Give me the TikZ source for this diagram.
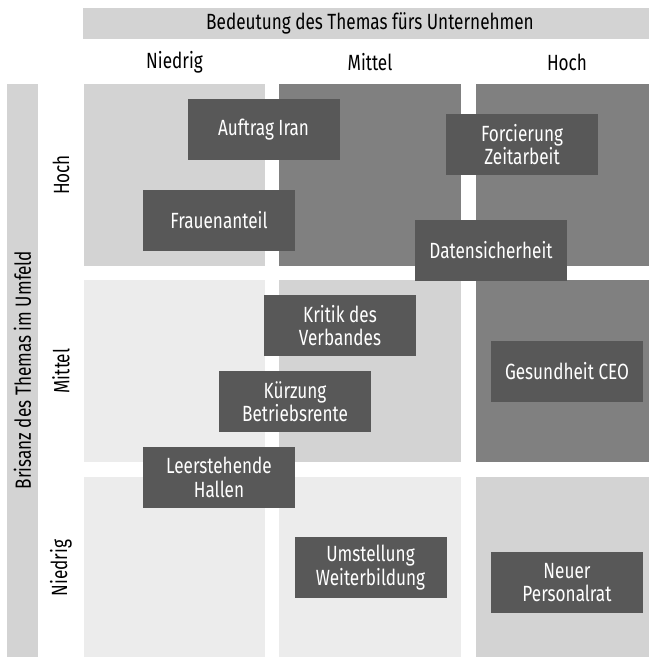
\documentclass[tikz,border=0pt]{standalone}
\usepackage{fontspec}
\setmainfont{Fira Sans}[FakeStretch=0.78]
\definecolor{vlight}{HTML}{ECECEC}
\definecolor{light}{HTML}{D3D3D3}
\definecolor{mid}{HTML}{808080}
\definecolor{dark}{HTML}{585858}
\begin{document}
\begin{tikzpicture}[x=1pt,y=-1pt,
  topic/.style={fill=dark,text=white,minimum width=152pt,minimum height=61pt,inner sep=0pt,align=center,font=\fontsize{22}{23.5}\selectfont},
  axislabel/.style={font=\fontsize{22}{24}\selectfont,inner sep=0pt}]
\useasboundingbox (0,0) rectangle (649,657);
% header bars
\fill[light] (83,8) rectangle (649,39);
\node[axislabel] (htitle) at (370,23.5) {Bedeutung des Themas fürs Unternehmen};
\fill[light] (7,84) rectangle (38,657);
\node[axislabel,rotate=90] (vtitle) at (22.5,370) {Brisanz des Themas im Umfeld};
% column labels
\node[axislabel] (cl) at (174.5,62) {Niedrig};
\node[axislabel] (cm) at (370,62) {Mittel};
\node[axislabel] (ch) at (567,62) {Hoch};
% row labels
\node[axislabel,rotate=90] (rh) at (61,175) {Hoch};
\node[axislabel,rotate=90] (rm) at (61,371) {Mittel};
\node[axislabel,rotate=90] (rn) at (61,568) {Niedrig};
% cells
\fill[light] (84,84) rectangle (265,266);
\fill[mid]   (279,84) rectangle (461,266);
\fill[mid]   (476,84) rectangle (649,266);
\fill[vlight] (84,280) rectangle (265,462);
\fill[light]  (279,280) rectangle (461,462);
\fill[mid]    (476,280) rectangle (649,462);
\fill[vlight] (84,477) rectangle (265,657);
\fill[vlight] (279,477) rectangle (461,657);
\fill[light]  (476,477) rectangle (649,657);
% topics
\node[topic] (iran) at (263.5,129.5) {Auftrag Iran};
\node[topic] (frauen) at (219,220.5) {Frauenanteil};
\node[topic] (zeit) at (522,144.5) {Forcierung\\Zeitarbeit};
\node[topic] (daten) at (491,250.5) {Datensicherheit};
\node[topic] (kritik) at (340,325.5) {Kritik des\\Verbandes};
\node[topic] (rente) at (295,401.5) {Kürzung\\Betriebsrente};
\node[topic] (ceo) at (567,371.5) {Gesundheit CEO};
\node[topic] (hallen) at (219,477.5) {Leerstehende\\Hallen};
\node[topic] (weiter) at (370.5,567.5) {Umstellung\\Weiterbildung};
\node[topic] (personal) at (567,582.5) {Neuer\\Personalrat};
\end{tikzpicture}
\end{document}
